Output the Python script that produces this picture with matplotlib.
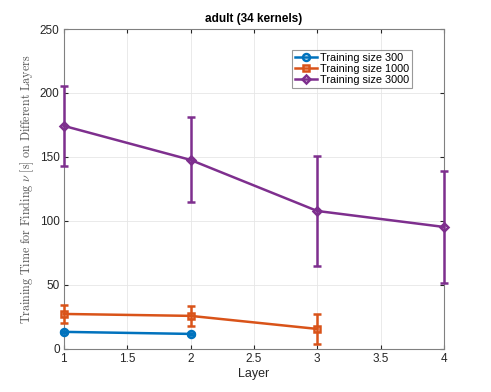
import matplotlib
matplotlib.use('Agg')
import matplotlib.pyplot as plt
import numpy as np

plt.rcParams['font.family'] = ['Liberation Sans', 'DejaVu Sans']
plt.rcParams['mathtext.fontset'] = 'cm'

layers_300 = [1, 2]
time_300 = [13.3, 11.7]
err_300 = [1.0, 1.0]

layers_1000 = [1, 2, 3]
time_1000 = [27.3, 25.8, 15.6]
err_1000 = [7.0, 7.8, 11.7]

layers_3000 = [1, 2, 3, 4]
time_3000 = [174.3, 147.7, 107.8, 95.3]
err_3000 = [31.0, 33.2, 42.7, 43.7]

c_blue = (0, 0.447, 0.741)
c_orange = (0.85, 0.325, 0.098)
c_purple = (0.494, 0.184, 0.556)


def main():
    fig = plt.figure(figsize=(4.91, 3.92), dpi=100)
    ax = fig.add_axes([0.130, 0.110, 0.774, 0.816])

    series = [
        (layers_300, time_300, err_300, c_blue, 'o', 'Training size 300'),
        (layers_1000, time_1000, err_1000, c_orange, 's', 'Training size 1000'),
        (layers_3000, time_3000, err_3000, c_purple, 'D', 'Training size 3000'),
    ]
    handles = []
    labels = []
    for x, y, e, c, m, lab in series:
        cont = ax.errorbar(x, y, yerr=e, color=c, marker=m,
                           markersize=5 if m != 'D' else 4.5,
                           markerfacecolor='none', markeredgewidth=1.8, linewidth=1.8,
                           capsize=3, capthick=1.8, elinewidth=1.8,
                           clip_on=False, zorder=3)
        handles.append(cont[0])
        labels.append(lab)

    ax.set_xlim(1, 4)
    ax.set_ylim(0, 250)
    ax.set_xticks([1, 1.5, 2, 2.5, 3, 3.5, 4])
    ax.set_xticklabels(['1', '1.5', '2', '2.5', '3', '3.5', '4'])
    ax.set_yticks([0, 50, 100, 150, 200, 250])
    ax.grid(True, color='#e6e6e6', linewidth=0.6)
    ax.set_axisbelow(True)
    ax.tick_params(direction='in', length=3, labelsize=8.5, colors='#262626',
                   top=True, right=True, pad=3)
    for sp in ax.spines.values():
        sp.set_color('#808080')
        sp.set_linewidth(0.8)

    ax.set_title('adult (34 kernels)', fontsize=8.5, fontweight='bold', pad=5)
    ax.set_xlabel('Layer', fontsize=9, color='#262626', labelpad=2)
    ax.set_ylabel(r'$\mathrm{Training\ Time\ for\ Finding}\ \nu\ \mathrm{[s]\ on\ Different\ Layers}$',
                  fontsize=8.7, color='#555555', labelpad=3)

    leg = ax.legend(handles, labels, loc='upper right', bbox_to_anchor=(0.916, 0.934),
                    fontsize=7.8, frameon=True, fancybox=False, edgecolor='#808080',
                    borderpad=0.25, labelspacing=0.1, handlelength=2.1,
                    handletextpad=0.25, borderaxespad=0)
    leg.get_frame().set_linewidth(0.8)

    fig.savefig('out.png', dpi=100)


if __name__ == "__main__":
    main()
